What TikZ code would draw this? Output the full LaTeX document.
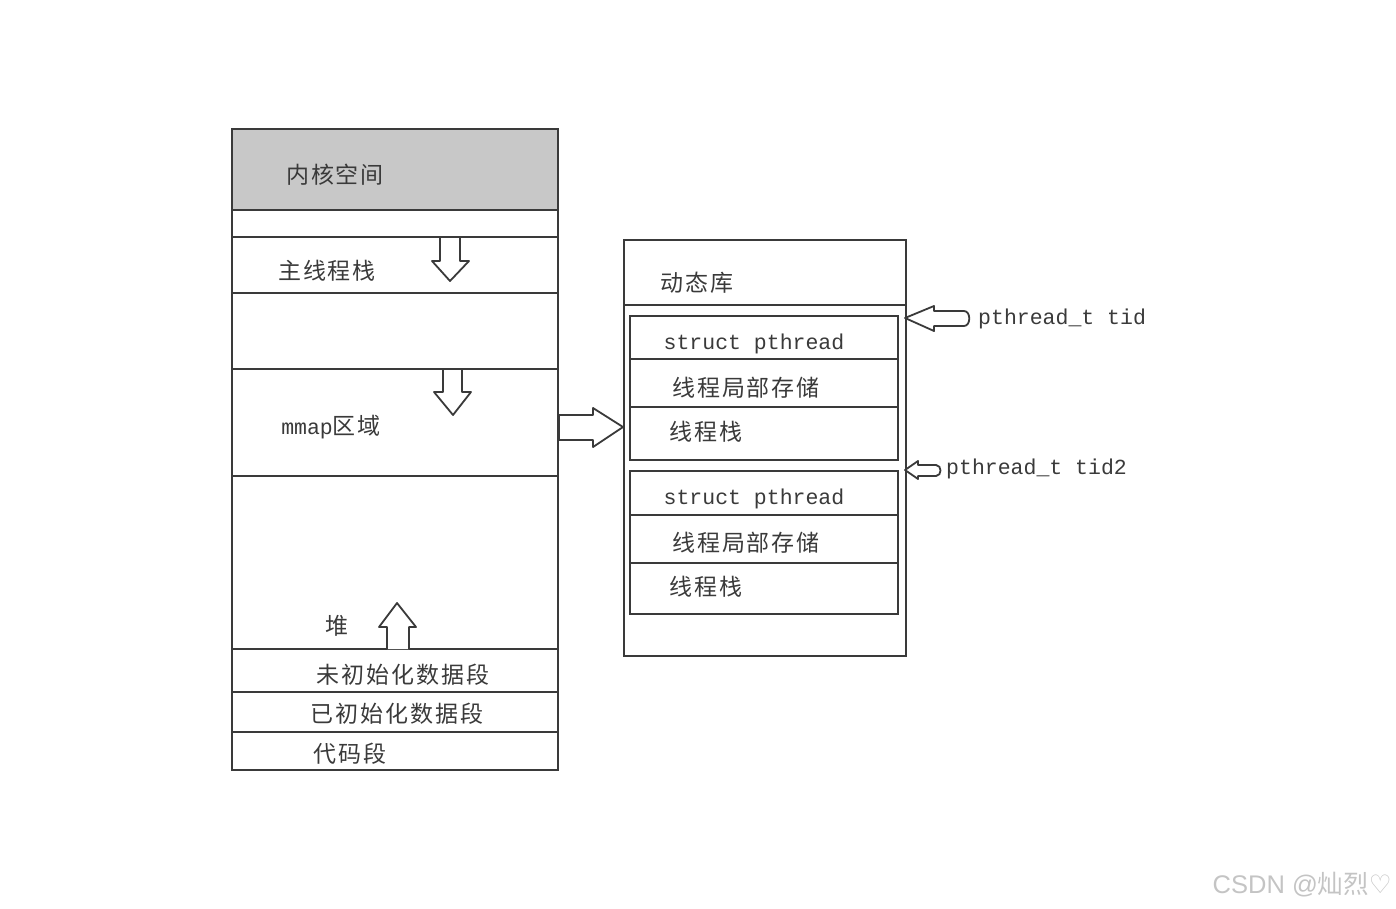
\documentclass[tikz,border=0pt]{standalone}
\usepackage{fontspec}
\newfontfamily\cjk[LetterSpace=8]{Noto Sans CJK SC}
\newfontfamily\cjkw{Noto Sans CJK SC}
\newfontfamily\monof{Liberation Mono}
\newfontfamily\wmsans{Liberation Sans}
\newfontfamily\symf{DejaVu Sans}
\definecolor{ink}{HTML}{3A3A3A}
\definecolor{kgray}{HTML}{C8C8C8}
\definecolor{wm}{HTML}{C4C4C4}
\tikzset{
  seg/.style={draw=ink, line width=2.3pt},
  divline/.style={draw=ink, line width=2.3pt},
  zh/.style={font=\cjk\fontsize{23}{26}\selectfont, text=ink, inner sep=0pt},
  mono/.style={font=\monof\fontsize{21.5}{24}\selectfont, text=ink, inner sep=0pt},
  blockarrow/.style={draw=ink, fill=white, line width=1.8pt, line join=round},
}
\begin{document}
\begin{tikzpicture}[x=1pt,y=-1pt]
\useasboundingbox (0,0) rectangle (1396,909);
% ---------- left box ----------
\fill[kgray] (232,129) rectangle (558,210);
\draw[seg] (232,129) rectangle (558,770);
\foreach \yy in {210,237,293,369,476,649,692,732}
  \draw[divline] (232,\yy) -- (558,\yy);
\node[zh] (kern) at (335,175) {内核空间};
\node[zh] (mstack) at (327,271) {主线程栈};
\node[zh] (mmap) at (331,427) {{\monof\fontsize{21.5}{24}\selectfont mmap}区域};
\node[zh] (heap) at (337,626) {堆};
\node[zh] (bss) at (403,675) {未初始化数据段};
\node[zh] (data) at (397,714) {已初始化数据段};
\node[zh] (text) at (350,754) {代码段};
% down / up arrows
\draw[blockarrow] (440,237) -- (460,237) -- (460,261) -- (469,261) -- (450,281) -- (432,261) -- (440,261) -- cycle;
\draw[blockarrow] (443,369) -- (462,369) -- (462,392) -- (471,392) -- (453,415) -- (434,392) -- (443,392) -- cycle;
\draw[blockarrow] (387,649) -- (387,627) -- (379,627) -- (397,603) -- (416,627) -- (409,627) -- (409,649);
% ---------- right box ----------
\draw[seg] (624,240) rectangle (906,656);
\draw[divline] (624,305) -- (906,305);
\node[zh] (dyn) at (697,283) {动态库};
% thread block 1
\draw[seg] (630,316) rectangle (898,460);
\draw[divline] (630,359) -- (898,359);
\draw[divline] (630,407) -- (898,407);
\node[mono] (sp1) at (754,344) {struct pthread};
\node[zh] (tls1) at (746,388) {线程局部存储};
\node[zh] (ts1) at (706,432) {线程栈};
% thread block 2
\draw[seg] (630,471) rectangle (898,614);
\draw[divline] (630,515) -- (898,515);
\draw[divline] (630,563) -- (898,563);
\node[mono] (sp2) at (754,499) {struct pthread};
\node[zh] (tls2) at (746,543) {线程局部存储};
\node[zh] (ts2) at (706,587) {线程栈};
% ---------- horizontal arrows ----------
\draw[blockarrow] (559,415) -- (593,415) -- (593,408) -- (623,427) -- (593,447) -- (593,440) -- (559,440) -- cycle;
\draw[blockarrow] (905,318) -- (934,306) -- (934,311) -- (964,311) to[out=0,in=0,looseness=1.2] (964,326) -- (934,326) -- (934,331) -- cycle;
\draw[blockarrow] (905,470) -- (918,461) -- (918,465) -- (936,465) to[out=0,in=0,looseness=1.4] (936,476) -- (918,476) -- (918,479) -- cycle;
\node[mono, anchor=west] (tid) at (978,319) {pthread\_t tid};
\node[mono, anchor=west] (tid2) at (946,469) {pthread\_t tid2};
% ---------- watermark ----------
\node[anchor=east, inner sep=0pt, text=wm, font=\wmsans\fontsize{25.5}{28}\selectfont] (wmark) at (1392,885) {CSDN @{\cjkw 灿烈}{\symf ♡}};
\end{tikzpicture}
\end{document}
